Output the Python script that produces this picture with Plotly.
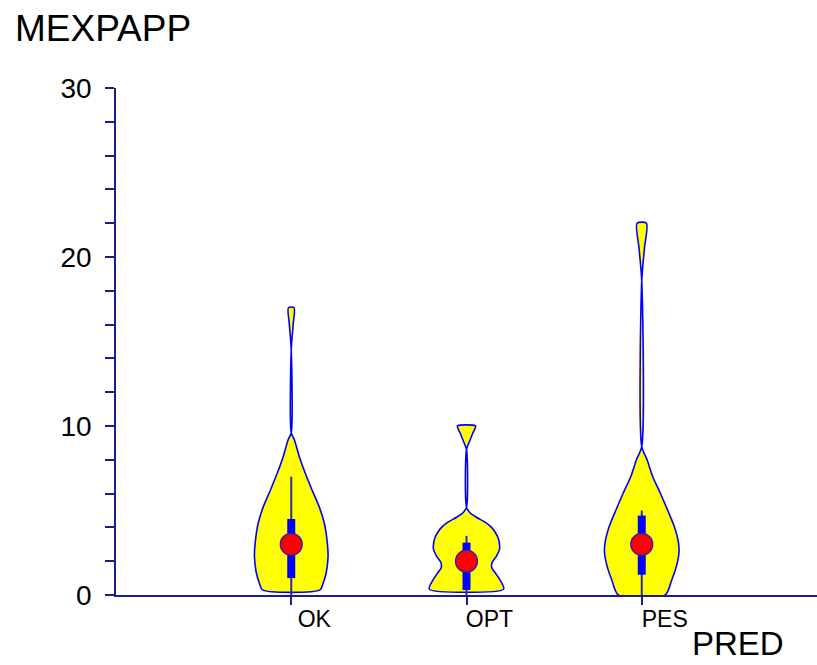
import plotly.graph_objects as go

# ---- data ----
categories = ["OK", "OPT", "PES"]
y_title = "MEXPAPP"
x_title = "PRED"
y_tick_values = [0, 10, 20, 30]

# violin outlines: value levels (bottom -> top) and relative density (half-width, max ~1)
ok_levels = [0.3, 0.7, 1.3, 2.25, 3.1, 4.26, 5.2, 6.2, 7.2, 8.2, 9.2, 9.6, 14.5, 16.0, 17.0]
ok_density = [0.76, 0.84, 0.92, 0.97, 0.95, 0.87, 0.74, 0.55, 0.37, 0.21, 0.08, 0.0, 0.0, 0.05, 0.075]

opt_levels = [0.35, 0.9, 1.3, 1.6, 1.9, 2.3, 2.7, 3.0, 3.4, 3.7, 4.0, 4.3, 4.6, 4.9, 5.2, 8.6, 9.1, 9.6, 10.0]
opt_density = [0.98, 0.88, 0.76, 0.67, 0.67, 0.79, 0.87, 0.87, 0.83, 0.76, 0.66, 0.50, 0.26, 0.08, 0.0, 0.0, 0.08, 0.17, 0.24]

pes_levels = [0.0, 0.89, 1.68, 2.47, 3.06, 4.04, 5.03, 6.02, 7.0, 8.0, 8.78, 18.6, 20.5, 22.0]
pes_density = [0.62, 0.79, 0.91, 0.98, 0.97, 0.86, 0.68, 0.49, 0.29, 0.14, 0.0, 0.0, 0.07, 0.125]

levels = [ok_levels, opt_levels, pes_levels]
densities = [ok_density, opt_density, pes_density]

# box summaries
whisker_low = [0.0, 0.0, 0.0]
whisker_high = [7.0, 3.5, 5.0]
q1 = [1.0, 0.3, 1.2]
q3 = [4.5, 3.1, 4.7]
medians = [3.0, 2.0, 3.0]

# ---- styling ----
HALF = 0.2165          # category units for density 1
AXIS_COLOR = "#1c1c8c"
FONT = "Liberation Sans, Arial, sans-serif"

fig = go.Figure()

for i, (lv, dn) in enumerate(zip(levels, densities)):
    xs = [i - d * HALF for d in dn] + [i + d * HALF for d in reversed(dn)] + [i - dn[0] * HALF]
    ys = list(lv) + list(reversed(lv)) + [lv[0]]
    fig.add_trace(go.Scatter(
        x=xs, y=ys, mode="lines", fill="toself",
        fillcolor="#FFFF00",
        line=dict(color="#0000FF", width=1.6, shape="spline", smoothing=0.7),
        hoverinfo="skip", showlegend=False))

wx, wy, bx, by = [], [], [], []
for i in range(len(categories)):
    wx += [i, i, None]
    wy += [whisker_low[i], whisker_high[i], None]
    bx += [i, i, None]
    by += [q1[i], q3[i], None]

fig.add_trace(go.Scatter(x=wx, y=wy, mode="lines",
                         line=dict(color="#2a2aa8", width=2),
                         hoverinfo="skip", showlegend=False))
fig.add_trace(go.Scatter(x=bx, y=by, mode="lines",
                         line=dict(color="#0000FF", width=8),
                         hoverinfo="skip", showlegend=False))
fig.add_trace(go.Scatter(x=list(range(len(categories))), y=medians, mode="markers",
                         marker=dict(color="#FF0000", size=22,
                                     line=dict(color="#2020c0", width=1.2)),
                         showlegend=False))

fig.update_layout(
    width=817, height=665,
    margin=dict(l=116, r=0, t=88, b=70),
    paper_bgcolor="white", plot_bgcolor="white",
    font=dict(family=FONT, color="black"),
    title=dict(text=y_title, x=15 / 817, xref="container", xanchor="left",
               y=1 - 28 / 665, yref="container", yanchor="middle",
               font=dict(size=37, family=FONT, color="black")),
    showlegend=False,
)

fig.update_xaxes(
    range=[-1, 3], tickvals=list(range(len(categories))), ticktext=categories,
    showline=True, linecolor=AXIS_COLOR, linewidth=1.5,
    ticks="outside", ticklen=8, tickwidth=1.5, tickcolor=AXIS_COLOR,
    ticklabelshift=23, ticklabelstandoff=-5,
    tickfont=dict(size=23, family=FONT, color="black"),
    showgrid=False, zeroline=False,
)
fig.update_yaxes(
    range=[0, 30], tickvals=y_tick_values,
    showline=True, linecolor=AXIS_COLOR, linewidth=1.5,
    ticks="outside", ticklen=9, tickwidth=1.5, tickcolor=AXIS_COLOR,
    minor=dict(dtick=2, ticks="outside", ticklen=9, tickwidth=1.5, tickcolor=AXIS_COLOR),
    tickfont=dict(size=28, family=FONT, color="black"),
    ticklabelstandoff=8,
    showgrid=False, zeroline=False,
)

fig.add_annotation(text=x_title, xref="paper", yref="paper",
                   x=(690 - 116) / 701, xanchor="left",
                   y=-48 / 507, yanchor="middle", showarrow=False,
                   font=dict(size=33, family=FONT, color="black"))

fig.write_html("out.html", config={"displayModeBar": False},
               post_script="document.body.style.margin='0';document.body.style.overflow='hidden';")
